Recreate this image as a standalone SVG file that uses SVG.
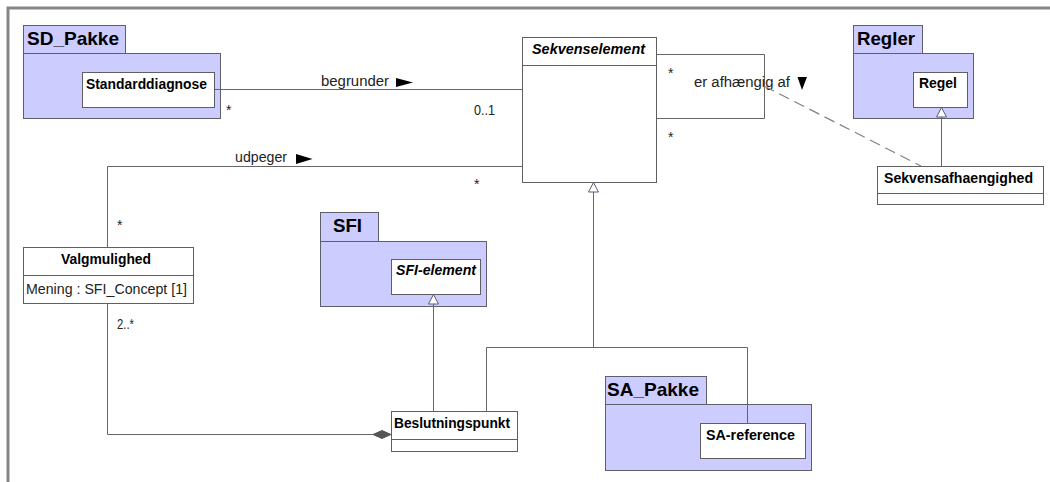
<svg xmlns="http://www.w3.org/2000/svg" width="1050" height="482" viewBox="0 0 1050 482">
  <defs>
    <style>
      .frame { stroke: #858585; stroke-width: 3; fill: none; }
      .pkg { fill: #ccccff; stroke: #5f5f6a; stroke-width: 1; }
      .cls { fill: #ffffff; stroke: #5f5f5f; stroke-width: 1; }
      .ln { fill: none; stroke: #666666; stroke-width: 1; }
      .dash { fill: none; stroke: #808080; stroke-width: 1.2; stroke-dasharray: 11 6; }
      .gen { fill: #ffffff; stroke: #5a5a7a; stroke-width: 1; }
      .dir { fill: #000000; stroke: none; }
      .comp { fill: #555555; stroke: #555555; stroke-width: 1; }
      .b { font-family: "Liberation Sans", Arial, sans-serif; font-weight: bold; font-size: 14px; fill: #000; }
      .bi { font-family: "Liberation Sans", Arial, sans-serif; font-weight: bold; font-style: italic; font-size: 14px; fill: #000; }
      .pk { font-family: "Liberation Sans", Arial, sans-serif; font-weight: bold; font-size: 19px; fill: #000; }
      .t { font-family: "Liberation Sans", Arial, sans-serif; font-size: 14px; fill: #222; }
    </style>
  </defs>

  <rect width="1050" height="482" fill="#ffffff"/>
  <!-- window frame -->
  <path class="frame" d="M8 482 V8 H1050"/>

  <!-- packages and classes -->
  <g id="sd-pakke">
    <rect class="pkg" x="23.5" y="25.5" width="102" height="28"/>
    <rect class="pkg" x="23.5" y="53.5" width="197" height="65"/>
    <text class="pk" x="27" y="45" textLength="92" lengthAdjust="spacingAndGlyphs">SD_Pakke</text>
  </g>
  <g id="standarddiagnose">
    <rect class="cls" x="82.5" y="72.5" width="132" height="35"/>
    <text class="b" x="86" y="89" textLength="121" lengthAdjust="spacingAndGlyphs">Standarddiagnose</text>
  </g>

  <g id="regler">
    <rect class="pkg" x="853.5" y="25.5" width="69" height="28"/>
    <rect class="pkg" x="853.5" y="53.5" width="120" height="65"/>
    <text class="pk" x="857" y="45" textLength="58" lengthAdjust="spacingAndGlyphs">Regler</text>
  </g>
  <g id="regel">
    <rect class="cls" x="913.5" y="72.5" width="54" height="35"/>
    <text class="b" x="919" y="88" textLength="38" lengthAdjust="spacingAndGlyphs">Regel</text>
  </g>

  <g id="sekvenselement">
    <rect class="cls" x="522.5" y="37.5" width="134" height="145"/>
    <line class="cls" x1="522.5" y1="65.5" x2="656.5" y2="65.5"/>
    <text class="bi" x="532" y="54" textLength="113" lengthAdjust="spacingAndGlyphs">Sekvenselement</text>
  </g>

  <g id="sekvensafhaengighed">
    <rect class="cls" x="877.5" y="166.5" width="166" height="38"/>
    <line class="cls" x1="877.5" y1="193.5" x2="1043.5" y2="193.5"/>
    <text class="b" x="884" y="183" textLength="149" lengthAdjust="spacingAndGlyphs">Sekvensafhaengighed</text>
  </g>

  <g id="valgmulighed">
    <rect class="cls" x="23.5" y="247.5" width="170" height="56"/>
    <line class="cls" x1="23.5" y1="275.5" x2="193.5" y2="275.5"/>
    <text class="b" x="61" y="264" textLength="90" lengthAdjust="spacingAndGlyphs">Valgmulighed</text>
    <text class="t" x="26" y="294" textLength="161" lengthAdjust="spacingAndGlyphs">Mening : SFI_Concept [1]</text>
  </g>

  <g id="sfi">
    <rect class="pkg" x="320.5" y="212.5" width="58" height="29"/>
    <rect class="pkg" x="320.5" y="241.5" width="166" height="65"/>
    <text class="pk" x="333" y="232" textLength="29" lengthAdjust="spacingAndGlyphs">SFI</text>
  </g>
  <g id="sfi-element">
    <rect class="cls" x="391.5" y="259.5" width="89" height="35"/>
    <text class="bi" x="396" y="275" textLength="80" lengthAdjust="spacingAndGlyphs">SFI-element</text>
  </g>

  <g id="beslutningspunkt">
    <rect class="cls" x="391.5" y="411.5" width="126" height="40"/>
    <line class="cls" x1="391.5" y1="439.5" x2="517.5" y2="439.5"/>
    <text class="b" x="394" y="428" textLength="116" lengthAdjust="spacingAndGlyphs">Beslutningspunkt</text>
  </g>

  <g id="sa-pakke">
    <rect class="pkg" x="605.5" y="376.5" width="101" height="28"/>
    <rect class="pkg" x="605.5" y="404.5" width="206" height="66"/>
    <text class="pk" x="607" y="396" textLength="92" lengthAdjust="spacingAndGlyphs">SA_Pakke</text>
  </g>
  <g id="sa-reference">
    <rect class="cls" x="700.5" y="423.5" width="105" height="35"/>
    <text class="b" x="706" y="440" textLength="89" lengthAdjust="spacingAndGlyphs">SA-reference</text>
  </g>

  <!-- connectors -->
  <g id="connectors">
    <!-- begrunder -->
    <line class="ln" x1="214.5" y1="89.5" x2="522.5" y2="89.5"/>
    <text class="t" x="321" y="86" textLength="68" lengthAdjust="spacingAndGlyphs">begrunder</text>
    <polygon class="dir" points="396,78 413,82.5 396,87"/>
    <text class="t" x="226" y="115">*</text>
    <text class="t" x="474" y="115" textLength="21" lengthAdjust="spacingAndGlyphs">0..1</text>

    <!-- er afhængig af (self association) -->
    <path class="ln" d="M656.5 54.5 H764.5 V118.5 H656.5"/>
    <text class="t" x="668" y="78">*</text>
    <text class="t" x="668" y="142">*</text>
    <text class="t" x="694" y="87" textLength="96" lengthAdjust="spacingAndGlyphs">er afhængig af</text>
    <polygon class="dir" points="797.5,77 807,77 802,90"/>
    <!-- association class link -->
    <line class="dash" x1="764" y1="86" x2="921" y2="166"/>

    <!-- udpeger -->
    <path class="ln" d="M107.5 247.5 V166.5 H522.5"/>
    <text class="t" x="235" y="162" textLength="52" lengthAdjust="spacingAndGlyphs">udpeger</text>
    <polygon class="dir" points="296,154 312.5,159 296,164"/>
    <text class="t" x="474" y="189">*</text>
    <text class="t" x="117" y="230">*</text>

    <!-- composition Valgmulighed - Beslutningspunkt -->
    <path class="ln" d="M107.5 303.5 V434.5 H373"/>
    <polygon class="comp" points="373,434.5 382,430.5 391,434.5 382,438.5"/>
    <text class="t" x="117" y="329" textLength="17" lengthAdjust="spacingAndGlyphs">2..*</text>

    <!-- generalisation Sekvensafhaengighed -> Regel -->
    <line class="ln" x1="941.5" y1="166.5" x2="941.5" y2="117"/>
    <polygon class="gen" points="941.5,107.5 946.5,117 936.5,117"/>

    <!-- generalisation Beslutningspunkt -> SFI-element -->
    <line class="ln" x1="433.5" y1="411.5" x2="433.5" y2="304"/>
    <polygon class="gen" points="433.5,294.5 438.5,304 428.5,304"/>

    <!-- generalisation Beslutningspunkt / SA-reference -> Sekvenselement -->
    <path class="ln" d="M486.5 411.5 V347.5 H747.5 V423.5"/>
    <line class="ln" x1="593.5" y1="347.5" x2="593.5" y2="192"/>
    <polygon class="gen" points="593.5,182.5 598.5,192 588.5,192"/>
  </g>
</svg>
